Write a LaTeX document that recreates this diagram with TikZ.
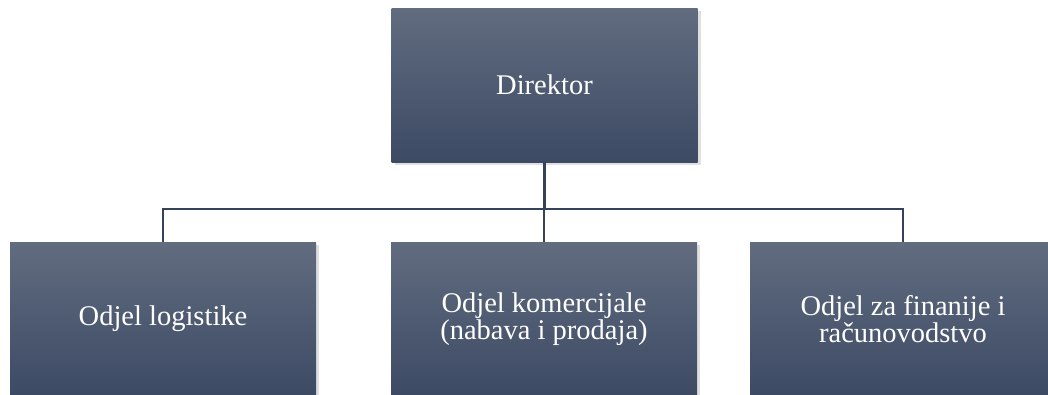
\documentclass[tikz,border=0pt]{standalone}
\usepackage{fontspec}
\setmainfont{Liberation Serif}
\newfontfamily\orgfont{Liberation Serif}
\usetikzlibrary{shadows}
\definecolor{boxtop}{HTML}{616C7F}
\definecolor{boxbot}{HTML}{3C4A64}
\definecolor{linec}{HTML}{34435A}
\begin{document}
\begin{tikzpicture}[x=1pt,y=-1pt,
  orgbox/.style={rectangle, minimum width=306pt, minimum height=154pt,
    top color=boxtop, bottom color=boxbot, draw=none, text=white,
    align=center, font=\orgfont\fontsize{28.5}{27.5}\selectfont,
    drop shadow={shadow xshift=3pt, shadow yshift=-3pt, opacity=0.25, fill=black!50}},
  conn/.style={draw=linec, line width=2.4pt}]
\useasboundingbox (0,0) rectangle (1048,394);
\node[orgbox] (dir) at (544.5,85) {Direktor};
\node[orgbox] (log) at (163,319) {Odjel logistike};
\node[orgbox] (kom) at (544,319) {Odjel komercijale\\(nabava i prodaja)};
\node[orgbox] (fin) at (903,319) {Odjel za finanije i\\računovodstvo};
\coordinate (bus) at (0,209);
\draw[conn] (dir.south) -- (dir.south |- bus);
\draw[conn] (log.north) -- (log.north |- bus) -- (fin.north |- bus) -- (fin.north);
\draw[conn] (kom.north) -- (kom.north |- bus);
\end{tikzpicture}
\end{document}
